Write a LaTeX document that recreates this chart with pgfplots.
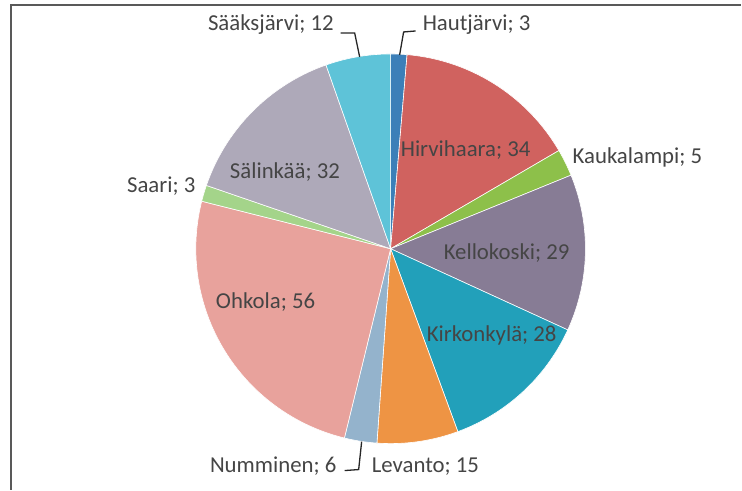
\documentclass[border=0pt]{standalone}
\usepackage{pgfplots}
\pgfplotsset{compat=1.18}
\usepackage{fontspec}
\setmainfont{Carlito}
\definecolor{cHaut}{HTML}{3C7FB8}
\definecolor{cHirv}{HTML}{D0625F}
\definecolor{cKauk}{HTML}{8DC04A}
\definecolor{cKell}{HTML}{877C95}
\definecolor{cKirk}{HTML}{22A0BA}
\definecolor{cLeva}{HTML}{EE9444}
\definecolor{cNumm}{HTML}{94B3CC}
\definecolor{cOhko}{HTML}{E8A29C}
\definecolor{cSaar}{HTML}{A4D48A}
\definecolor{cSali}{HTML}{AEA9B9}
\definecolor{cSaak}{HTML}{5EC3D8}
\definecolor{txt}{HTML}{454545}
\def\total{223}
\def\cum{0}
\newcommand\slice[2]{%
  \pgfmathsetmacro\sa{\cum/\total*360}%
  \pgfmathsetmacro\sb{(\cum+#1)/\total*360}%
  \pgfmathsetmacro\tmp{\cum+#1}\xdef\cum{\tmp}%
  \addplot[fill=#2, draw=white, line width=0.6pt, domain=\sa:\sb, samples=60, variable=\t]
    ({391+195*sin(\t)},{241+195*cos(\t)}) -- (391,241) -- cycle;%
}
\tikzset{lbl/.style={font=\fontsize{22.8}{27}\selectfont, text=txt, inner sep=0pt, anchor=west}}
\begin{document}
\begin{tikzpicture}
\begin{axis}[width=742pt, height=490pt, scale only axis, xmin=0, xmax=742, ymin=0, ymax=490,
  hide axis, clip=false]
\path (0,0) rectangle (742,490);
\draw[gray!70!black, line width=1.4pt] (11,0) -- (11,485) -- (742,485);
% values: Hautjärvi 3, Hirvihaara 34, Kaukalampi 5, Kellokoski 29, Kirkonkylä 28,
% Levanto 15, Numminen 6, Ohkola 56, Saari 3, Sälinkää 32, Sääksjärvi 12
\slice{3}{cHaut}
\slice{34}{cHirv}
\slice{5}{cKauk}
\slice{29}{cKell}
\slice{28}{cKirk}
\slice{15}{cLeva}
\slice{6}{cNumm}
\slice{56}{cOhko}
\slice{3}{cSaar}
\slice{32}{cSali}
\slice{12}{cSaak}
\draw[black!85, line width=1.3pt] (400,435) -- (404,458) -- (416,459);
\draw[black!85, line width=1.3pt] (341,457) -- (355,457) -- (360,433);
\draw[black!85, line width=1.3pt] (362,48) -- (359,20) -- (345,19);
\node[lbl] at (208,465) {Sääksjärvi; 12};
\node[lbl] at (423,465) {Hautjärvi; 3};
\node[lbl] at (401,340) {Hirvihaara; 34};
\node[lbl] at (573,332) {Kaukalampi; 5};
\node[lbl] at (444,237) {Kellokoski; 29};
\node[lbl] at (427,154) {Kirkonkylä; 28};
\node[lbl] at (372,23) {Levanto; 15};
\node[lbl] at (210,23) {Numminen; 6};
\node[lbl] at (216,188) {Ohkola; 56};
\node[lbl] at (127,304) {Saari; 3};
\node[lbl] at (230,318) {Sälinkää; 32};
\end{axis}
\end{tikzpicture}
\end{document}
